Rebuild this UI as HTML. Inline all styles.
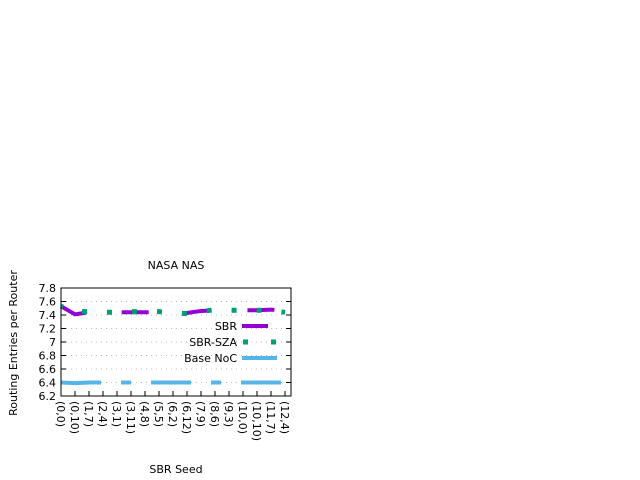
<!DOCTYPE html>
<html><head><meta charset="utf-8"><style>
body{margin:0;background:#fff}
svg{display:block;font-family:"DejaVu Sans","Liberation Sans",sans-serif}
</style></head><body>
<svg id="chart" width="640" height="480">
<rect x="0" y="0" width="640" height="480" fill="#fff"/>
<text x="176" y="269" font-size="11" text-anchor="middle">NASA NAS</text>
<text transform="translate(17,343) rotate(-90)" font-size="11" text-anchor="middle">Routing Entries per Router</text>
<text x="176" y="473" font-size="11" text-anchor="middle">SBR Seed</text>
<g id="grid"></g>
<g id="ticks"></g>
<g id="series"></g>
<rect x="61" y="288" width="230" height="108" fill="none" stroke="#000" stroke-width="1"/>
<g>
<text x="237" y="330" font-size="11" text-anchor="end">SBR</text>
<line x1="242" y1="326" x2="268" y2="326" stroke="#9400d3" stroke-width="4"/>
<text x="237" y="346" font-size="11" text-anchor="end">SBR-SZA</text>
<line x1="243" y1="342" x2="276" y2="342" stroke="#009e73" stroke-width="5" stroke-dasharray="5,23"/>
<text x="237" y="362" font-size="11" text-anchor="end">Base NoC</text>
<line x1="242" y1="358" x2="277" y2="358" stroke="#56b4e9" stroke-width="4"/>
</g>
</svg>
<script>
const categories=["(0,0)","(0,10)","(1,7)","(2,4)","(3,1)","(3,11)","(4,8)","(5,5)","(6,2)","(6,12)","(7,9)","(8,6)","(9,3)","(10,0)","(10,10)","(11,7)","(12,4)"];
const sbrValues=[7.53,7.41,7.44,7.44,7.44,7.44,7.44,7.44,7.42,7.43,7.46,7.47,7.47,7.47,7.47,7.48,7.46];
const szaValues=[7.53,7.45,7.45,7.44,7.44,7.45,7.45,7.45,7.43,7.42,7.45,7.48,7.47,7.47,7.47,7.47,7.44];
const baseValues=[6.40,6.39,6.40,6.40,6.40,6.40,6.40,6.40,6.40,6.40,6.40,6.40,6.40,6.40,6.40,6.40,6.40];
const yTicks=["6.2","6.4","6.6","6.8","7","7.2","7.4","7.6","7.8"];
const NS="http://www.w3.org/2000/svg";
const X0=61,X1=291,Y0=396,Y1=288,ymin=6.2,ymax=7.8;
function xs(i){return 61+i*14;}
function ys(v){return Y0-(v-ymin)/(ymax-ymin)*(Y0-Y1);}
function mk(t,a){const e=document.createElementNS(NS,t);for(const k in a)e.setAttribute(k,a[k]);return e;}
const grid=document.getElementById('grid'),ticks=document.getElementById('ticks'),series=document.getElementById('series');
yTicks.forEach(t=>{const y=ys(parseFloat(t));
 if(y>Y1+1&&y<Y0-1){const g=mk('line',{x1:X0,x2:X1,y1:y,y2:y,stroke:'#aaa','stroke-width':0.8,'stroke-dasharray':'1,4'});
 
 grid.appendChild(g);}
 const tk=mk('line',{x1:X0,x2:X0+5,y1:y,y2:y,stroke:'#000'});
 
 ticks.appendChild(tk);
 const tk2=mk('line',{x1:X1-5,x2:X1,y1:y,y2:y,stroke:'#000'});
 
 ticks.appendChild(tk2);
 const tx=mk('text',{x:56,y:y+4,'font-size':11,'text-anchor':'end'});tx.textContent=t;
 
 ticks.appendChild(tx);});
categories.forEach((c,i)=>{const x=xs(i);
 const tk=mk('line',{x1:x,x2:x,y1:Y0,y2:Y0-5,stroke:'#000'});
 
 ticks.appendChild(tk);
 const tx=mk('text',{transform:`translate(${x-4},401) rotate(90)`,'font-size':11});tx.textContent=c;
 
 ticks.appendChild(tx);});
function path(vals){return vals.map((v,i)=>(i?'L':'M')+xs(i)+','+ys(v)).join('');}
const pb=mk('path',{d:path(baseValues),fill:'none',stroke:'#56b4e9','stroke-width':4,'stroke-dasharray':'40,20,10,20'});

series.appendChild(pb);
const ps=mk('path',{d:path(sbrValues),fill:'none',stroke:'#9400d3','stroke-width':4,'stroke-dasharray':'27,36'});

series.appendChild(ps);
const pz=mk('path',{d:path(szaValues),fill:'none',stroke:'#009e73','stroke-width':5,'stroke-dasharray':'5,20','stroke-dashoffset':'3'});

series.appendChild(pz);
</script>
</body></html>
